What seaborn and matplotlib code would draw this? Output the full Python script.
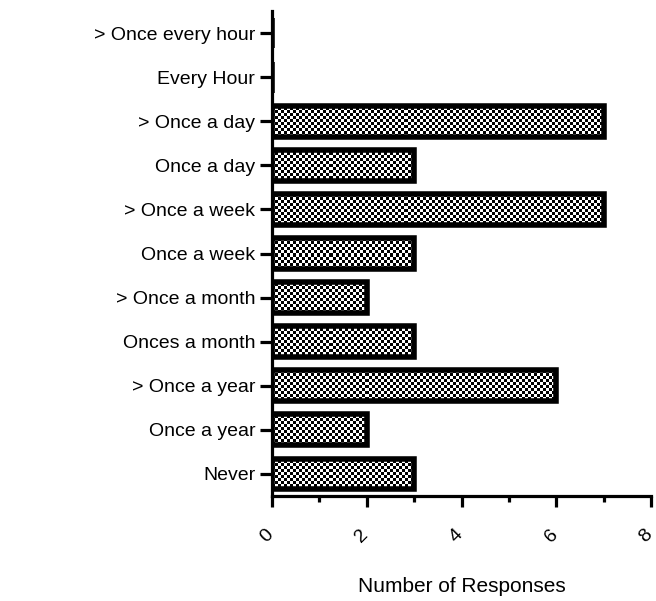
import numpy as np
import matplotlib
matplotlib.use("Agg")
import matplotlib.pyplot as plt
import matplotlib.transforms as mtransforms
import seaborn as sns
from matplotlib.ticker import MultipleLocator

categories = ["> Once every hour", "Every Hour", "> Once a day", "Once a day",
              "> Once a week", "Once a week", "> Once a month", "Onces a month",
              "> Once a year", "Once a year", "Never"]
responses = [0, 0, 7, 3, 7, 3, 2, 3, 6, 2, 3]
xticks = [0, 2, 4, 6, 8]
xlabel = "Number of Responses"

sns.set_theme(style="white")
plt.rcParams["font.family"] = ["Liberation Sans", "DejaVu Sans"]

fig = plt.figure(figsize=(6.56, 6.01), dpi=100)
ax = fig.add_axes([0.4146, 0.1747, 0.578, 0.807])

sns.barplot(x=responses, y=categories, orient="h", ax=ax, color="white",
            width=0.7, linewidth=4, edgecolor="black", saturation=1)
for p in ax.patches:
    p.set_facecolor("none")
    p.set_zorder(2)

ax.set_xlim(0, 8)
ax.set_ylim(len(categories) - 0.5, -0.5)
ax.set_xticks(xticks)
ax.xaxis.set_minor_locator(MultipleLocator(1))

# checkerboard fill, clipped to each bar
fig.canvas.draw()
bb = ax.bbox
cell = 3
W, H = int(round(bb.width / cell)), int(round(bb.height / cell))
ii, jj = np.indices((H, W))
checker = ((ii + jj) % 2).astype(float)
for p in ax.patches:
    im = ax.imshow(checker, cmap="gray", vmin=0, vmax=1, interpolation="nearest",
                   extent=(0, 8, len(categories) - 0.5, -0.5), aspect="auto", zorder=1)
    im.set_clip_path(p)
ax.set_xlim(0, 8)
ax.set_ylim(len(categories) - 0.5, -0.5)

for s in ["top", "right"]:
    ax.spines[s].set_visible(False)
for s in ["left", "bottom"]:
    ax.spines[s].set_linewidth(2.3)
    ax.spines[s].set_color("black")

ax.tick_params(axis="y", which="major", left=True, length=9, width=2.3, color="black",
               labelsize=14, pad=3, labelcolor="black")
ax.tick_params(axis="x", which="major", bottom=True, length=8, width=2.3, color="black",
               labelsize=14, pad=21, labelcolor="black")
ax.tick_params(axis="x", which="minor", bottom=True, length=4.5, width=2.3, color="black")
shift = mtransforms.ScaledTranslation(-5 / 100, 0, fig.dpi_scale_trans)
for lab in ax.get_xticklabels():
    lab.set_rotation(45)
    lab.set_ha("center")
    lab.set_va("center")
    lab.set_transform(lab.get_transform() + shift)

ax.set_ylabel("")
ax.set_xlabel(xlabel, fontsize=15, color="black", labelpad=22)

fig.savefig("out.png", dpi=100)
